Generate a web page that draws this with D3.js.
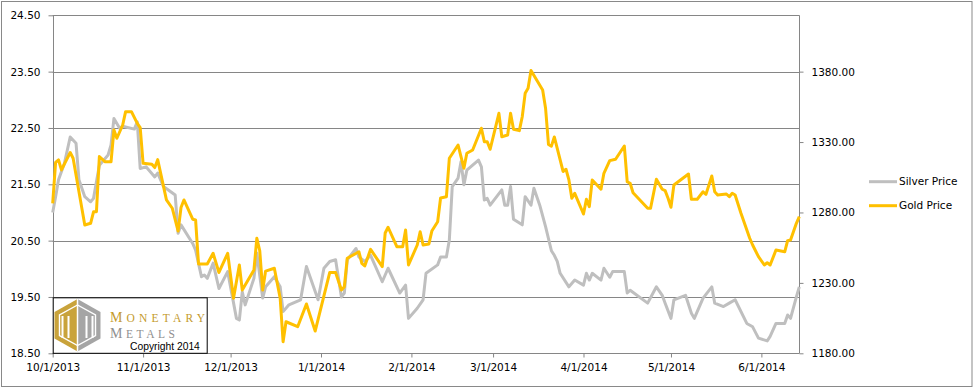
<!DOCTYPE html>
<html><head><meta charset="utf-8">
<script src="https://cdn.jsdelivr.net/npm/d3@7"></script>
<style>
html,body{margin:0;padding:0;background:#fff;}
svg{display:block;}
text{font-family:"DejaVu Sans",sans-serif;}
</style></head>
<body>
<svg id="chart" width="974" height="389"></svg>
<script>
// ---------- DATA ----------
const silverDates = ["10/1/2013","10/2/2013","10/3/2013","10/5/2013","10/7/2013","10/9/2013","10/10/2013","10/12/2013","10/14/2013","10/15/2013","10/17/2013","10/20/2013","10/21/2013","10/22/2013","10/24/2013","10/25/2013","10/29/2013","10/30/2013","10/31/2013","11/2/2013","11/5/2013","11/6/2013","11/8/2013","11/12/2013","11/13/2013","11/14/2013","11/18/2013","11/19/2013","11/21/2013","11/22/2013","11/23/2013","11/25/2013","11/27/2013","11/30/2013","12/3/2013","12/4/2013","12/5/2013","12/6/2013","12/9/2013","12/10/2013","12/12/2013","12/13/2013","12/16/2013","12/18/2013","12/19/2013","12/21/2013","12/25/2013","12/27/2013","12/31/2013","1/2/2014","1/4/2014","1/6/2014","1/8/2014","1/9/2014","1/10/2014","1/13/2014","1/14/2014","1/16/2014","1/18/2014","1/22/2014","1/24/2014","1/28/2014","1/30/2014","1/31/2014","2/3/2014","2/5/2014","2/6/2014","2/10/2014","2/11/2014","2/13/2014","2/14/2014","2/15/2014","2/17/2014","2/18/2014","2/19/2014","2/20/2014","2/24/2014","2/25/2014","2/26/2014","2/27/2014","2/28/2014","3/4/2014","3/5/2014","3/6/2014","3/7/2014","3/8/2014","3/11/2014","3/12/2014","3/14/2014","3/15/2014","3/17/2014","3/19/2014","3/21/2014","3/22/2014","3/23/2014","3/24/2014","3/27/2014","3/29/2014","4/1/2014","4/2/2014","4/3/2014","4/4/2014","4/7/2014","4/8/2014","4/10/2014","4/11/2014","4/15/2014","4/16/2014","4/17/2014","4/23/2014","4/26/2014","4/28/2014","4/29/2014","5/1/2014","5/2/2014","5/6/2014","5/8/2014","5/9/2014","5/12/2014","5/15/2014","5/16/2014","5/19/2014","5/21/2014","5/23/2014","5/27/2014","5/29/2014","5/31/2014","6/3/2014","6/4/2014","6/6/2014","6/9/2014","6/10/2014","6/11/2014","6/13/2014","6/14/2014"];
const silverValues = [21.00,21.28,21.58,21.87,22.34,22.23,21.58,21.28,21.19,21.25,21.84,22.02,22.20,22.67,22.49,22.53,22.48,22.61,21.78,21.81,21.63,21.70,21.46,21.31,20.63,20.78,20.45,20.33,19.86,19.89,19.83,20.10,19.65,19.95,19.12,19.09,19.59,19.36,19.83,20.28,19.48,19.68,19.86,19.68,19.24,19.36,19.45,20.04,19.45,20.01,20.13,20.16,19.50,19.57,20.16,20.36,20.21,20.13,20.24,19.77,20.01,19.57,19.71,19.12,19.30,19.45,19.92,20.07,20.21,20.21,20.51,21.46,21.61,21.90,21.49,21.75,21.93,21.81,21.22,21.25,21.13,21.40,21.13,21.13,21.46,20.88,20.78,21.28,21.13,21.43,21.13,20.75,20.32,20.24,20.13,19.92,19.68,19.80,19.71,19.92,19.80,19.92,19.80,20.01,19.85,19.95,19.95,19.57,19.62,19.39,19.68,19.53,19.39,19.12,19.45,19.53,19.21,19.12,19.48,19.68,19.39,19.33,19.39,19.45,19.03,18.97,18.77,18.72,18.80,19.03,19.03,19.18,19.12,19.50,19.68];

const goldDates = ["10/1/2013","10/2/2013","10/3/2013","10/4/2013","10/7/2013","10/8/2013","10/12/2013","10/14/2013","10/15/2013","10/16/2013","10/17/2013","10/19/2013","10/21/2013","10/22/2013","10/23/2013","10/25/2013","10/26/2013","10/28/2013","10/30/2013","10/31/2013","11/1/2013","11/4/2013","11/5/2013","11/6/2013","11/9/2013","11/11/2013","11/13/2013","11/14/2013","11/15/2013","11/18/2013","11/19/2013","11/20/2013","11/23/2013","11/25/2013","11/27/2013","11/30/2013","12/2/2013","12/4/2013","12/5/2013","12/9/2013","12/10/2013","12/11/2013","12/12/2013","12/13/2013","12/16/2013","12/18/2013","12/19/2013","12/20/2013","12/24/2013","12/27/2013","12/30/2013","1/4/2014","1/6/2014","1/8/2014","1/9/2014","1/10/2014","1/14/2014","1/15/2014","1/16/2014","1/18/2014","1/22/2014","1/23/2014","1/24/2014","1/27/2014","1/29/2014","1/30/2014","1/31/2014","2/3/2014","2/4/2014","2/5/2014","2/7/2014","2/8/2014","2/10/2014","2/11/2014","2/13/2014","2/14/2014","2/17/2014","2/18/2014","2/19/2014","2/20/2014","2/22/2014","2/25/2014","2/26/2014","2/27/2014","2/28/2014","3/3/2014","3/4/2014","3/6/2014","3/7/2014","3/8/2014","3/10/2014","3/11/2014","3/12/2014","3/13/2014","3/14/2014","3/18/2014","3/19/2014","3/20/2014","3/21/2014","3/22/2014","3/25/2014","3/26/2014","3/27/2014","3/28/2014","3/29/2014","4/1/2014","4/2/2014","4/3/2014","4/4/2014","4/7/2014","4/8/2014","4/10/2014","4/12/2014","4/15/2014","4/16/2014","4/17/2014","4/18/2014","4/23/2014","4/24/2014","4/26/2014","4/28/2014","4/29/2014","4/30/2014","5/1/2014","5/2/2014","5/7/2014","5/8/2014","5/10/2014","5/12/2014","5/13/2014","5/15/2014","5/16/2014","5/17/2014","5/20/2014","5/21/2014","5/22/2014","5/23/2014","5/25/2014","5/28/2014","5/29/2014","5/31/2014","6/2/2014","6/3/2014","6/4/2014","6/6/2014","6/9/2014","6/10/2014","6/11/2014","6/13/2014","6/14/2014"];
const goldValues = [1286.5,1315.5,1317.3,1310.2,1322.6,1318.5,1271.1,1272.3,1280.5,1280.5,1319.7,1316.0,1316.0,1338.6,1332.7,1342.1,1351.6,1351.6,1343.3,1340.3,1314.9,1314.3,1311.9,1317.5,1288.9,1283.0,1266.8,1283.5,1288.9,1275.2,1274.7,1243.4,1243.4,1251.0,1237.4,1251.0,1219.1,1242.7,1224.9,1239.1,1261.7,1252.8,1224.9,1238.4,1240.4,1219.1,1188.2,1202.4,1198.9,1215.0,1195.8,1237.4,1237.4,1224.9,1227.3,1247.5,1252.1,1243.9,1242.0,1253.8,1241.6,1265.4,1269.5,1255.7,1255.7,1267.6,1242.7,1256.9,1266.3,1256.9,1257.6,1266.8,1273.4,1290.3,1291.2,1318.5,1327.9,1319.6,1311.4,1322.0,1324.4,1339.8,1330.2,1330.2,1324.9,1350.4,1333.8,1335.0,1350.4,1339.1,1338.1,1348.0,1364.6,1368.2,1380.8,1367.0,1354.0,1328.3,1327.1,1333.6,1309.1,1310.7,1303.1,1290.1,1293.6,1278.9,1289.4,1284.1,1303.1,1296.5,1307.8,1316.8,1317.8,1327.2,1301.8,1300.7,1294.0,1283.0,1283.0,1303.6,1296.5,1295.5,1290.1,1283.7,1299.5,1307.3,1289.4,1289.4,1294.7,1292.9,1305.9,1294.7,1292.4,1293.1,1291.2,1293.6,1292.4,1279.4,1261.7,1256.9,1248.6,1242.7,1244.3,1242.7,1253.3,1252.1,1260.0,1260.4,1272.3,1277.0];

const xTickLabels = ["10/1/2013","11/1/2013","12/1/2013","1/1/2014","2/1/2014","3/1/2014","4/1/2014","5/1/2014","6/1/2014"];
const leftTicks = [18.5,19.5,20.5,21.5,22.5,23.5,24.5];
const rightTicks = [1180,1230,1280,1330,1380];
const seriesNames = ["Silver Price","Gold Price"];
const seriesColors = ["#BFBFBF","#FFC000"];

// ---------- LAYOUT ----------
const svg = d3.select("#chart");
const L = 52.7, R = 799.3, T = 15.3, B = 353.3;
const parse = d3.timeParse("%m/%d/%Y");
const x = d3.scaleTime().domain([parse("10/1/2013"), parse("6/14/2014")]).range([L, R]);
const yL = d3.scaleLinear().domain([18.5, 24.5]).range([B, T]);
const yR = d3.scaleLinear().domain([1180, 1420]).range([B, T]);
const gridColor = "#868686";

// outer border
svg.append("rect").attr("x",1.5).attr("y",1.5).attr("width",970.5).attr("height",385)
  .attr("fill","#fff").attr("stroke","#898989").attr("stroke-width",1);

// gridlines
svg.append("g").selectAll("line").data(leftTicks).join("line")
  .attr("x1",L).attr("x2",R)
  .attr("y1",d=>Math.round(yL(d))+0.5).attr("y2",d=>Math.round(yL(d))+0.5)
  .attr("stroke",gridColor).attr("stroke-width",1);

// axes
const fmt = d3.format(".2f");
const axL = svg.append("g").attr("transform",`translate(${Math.round(L)+0.5},0)`)
  .call(d3.axisLeft(yL).tickValues(leftTicks).tickFormat(fmt).tickSize(5).tickPadding(8));
const axR = svg.append("g").attr("transform",`translate(${Math.round(R)+0.5},0)`)
  .call(d3.axisRight(yR).tickValues(rightTicks).tickFormat(fmt).tickSize(4).tickPadding(8));
const axB = svg.append("g").attr("transform",`translate(0,${Math.round(B)+0.5})`)
  .call(d3.axisBottom(x).tickValues(xTickLabels.map(parse)).tickFormat((d,i)=>xTickLabels[i]).tickSize(4).tickPadding(6));

[axL,axR,axB].forEach(g=>{
  g.select(".domain").attr("stroke",gridColor).attr("stroke-width",1);
  g.selectAll(".tick line").attr("stroke",gridColor);
  g.selectAll(".tick text").attr("fill","#000").style("font-size","10.5px").style("font-family","'DejaVu Sans',sans-serif");
});
axL.select(".domain").attr("d",`M0,${T}V${B}`);
axR.select(".domain").attr("d",`M0,${T}V${B}`);
axB.select(".domain").attr("d",`M${L},0H${R}`);

// lines
const silver = silverDates.map((d,i)=>({date:parse(d), v:silverValues[i]}));
const gold = goldDates.map((d,i)=>({date:parse(d), v:goldValues[i]}));
svg.append("path").datum(silver)
  .attr("d", d3.line().x(d=>x(d.date)).y(d=>yL(d.v)))
  .attr("fill","none").attr("stroke",seriesColors[0]).attr("stroke-width",3).attr("stroke-linejoin","round");
svg.append("path").datum(gold)
  .attr("d", d3.line().x(d=>x(d.date)).y(d=>yR(d.v)))
  .attr("fill","none").attr("stroke",seriesColors[1]).attr("stroke-width",3).attr("stroke-linejoin","round");

// legend
const legY = [181.7, 205.7];
const leg = svg.append("g");
seriesNames.forEach((n,i)=>{
  leg.append("line").attr("x1",869).attr("x2",897).attr("y1",legY[i]).attr("y2",legY[i])
    .attr("stroke",seriesColors[i]).attr("stroke-width",3);
  leg.append("text").attr("x",899).attr("y",legY[i]).attr("dy","0.35em")
    .style("font-size","10.5px").attr("fill","#000").text(n);
});

// logo box
const logo = svg.append("g");
logo.append("rect").attr("x",53.2).attr("y",297.8).attr("width",154).attr("height",55.5)
  .attr("fill","#fff").attr("stroke","#000").attr("stroke-width",1);
const cx = 77.5, ty = 299, by = 351.5, lx = 54.5, rx = 100.5, uy = 312, ly = 338.5;
const gold1 = "#C9A33B", grey1 = "#A5A5A5";
logo.append("polygon").attr("points",`${cx},${ty} ${lx},${uy} ${lx},${ly} ${cx},${by}`).attr("fill",gold1);
logo.append("polygon").attr("points",`${cx},${ty} ${rx},${uy} ${rx},${ly} ${cx},${by}`).attr("fill",grey1);
const ins = 5;
logo.append("polygon")
  .attr("points",`${cx},${ty+ins+1} ${lx+ins},${uy+3} ${lx+ins},${ly-3} ${cx},${by-ins-1} ${rx-ins},${ly-3} ${rx-ins},${uy+3}`)
  .attr("fill","none").attr("stroke","#fff").attr("stroke-width",1.4);
[62.5,68.5,77.5,86.5,92.5].forEach(xx=>{
  logo.append("line").attr("x1",xx).attr("x2",xx).attr("y1",xx===77.5?ty:316).attr("y2",xx===77.5?by:338)
    .attr("stroke","#fff").attr("stroke-width",xx===77.5?1.5:2);
});
const t1 = logo.append("text").attr("x",110).attr("y",321.5).attr("fill","#C49A2C")
  .style("font-family","'Liberation Serif',serif").attr("textLength",95).attr("lengthAdjust","spacing");
t1.append("tspan").style("font-size","14px").text("M");
t1.append("tspan").style("font-size","11.5px").text("ONETARY");
const t2 = logo.append("text").attr("x",110).attr("y",338).attr("fill","#8F8F8F")
  .style("font-family","'Liberation Serif',serif").attr("textLength",65).attr("lengthAdjust","spacing");
t2.append("tspan").style("font-size","14px").text("M");
t2.append("tspan").style("font-size","11.5px").text("ETALS");
logo.append("text").attr("x",130).attr("y",349.5).attr("fill","#000")
  .style("font-family","'Liberation Sans',Arial,sans-serif").style("font-size","10.3px").text("Copyright 2014");
</script>
</body></html>
